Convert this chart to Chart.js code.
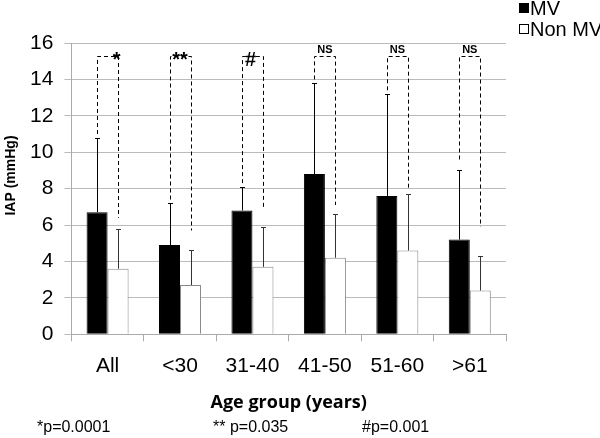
<!DOCTYPE html>
<html>
<head>
<meta charset="utf-8">
<script src="https://cdn.jsdelivr.net/npm/chart.js@4/dist/chart.umd.min.js"></script>
<style>
  html, body { margin: 0; padding: 0; background: #fff; }
  #wrap { width: 600px; height: 438px; position: relative; }
</style>
</head>
<body>
<div id="wrap"><canvas id="chart" width="600" height="438"></canvas></div>
<script>
const categories = ['All', '<30', '31-40', '41-50', '51-60', '>61'];
const mvValues = [6.7, 4.9, 6.8, 8.8, 7.6, 5.2];
const nonMvValues = [3.6, 2.7, 3.7, 4.2, 4.6, 2.4];
const mvUpper = [10.8, 7.2, 8.1, 13.8, 13.2, 9.0];
const nonMvUpper = [5.8, 4.6, 5.9, 6.6, 7.7, 4.3];

// significance brackets
const bracketTop = 15.3;
const bracketLeftFrom = [11.0, 7.4, 8.3, 14.0, 13.4, 9.6];
const bracketRightTo = [6.4, 5.7, 7.0, 7.1, 8.0, 5.9];
const bracketLabels = ['*', '**', '#', 'NS', 'NS', 'NS'];

const yTicks = [0, 2, 4, 6, 8, 10, 12, 14, 16];
const yTitle = 'IAP (mmHg)';
const footnotes = ['*p=0.0001', '** p=0.035', '#p=0.001'];

const FONT = '"Liberation Sans", Arial, sans-serif';

const errorBars = {
    id: 'errorBars',
    afterDatasetsDraw(chart) {
        const ctx = chart.ctx;
        const y = chart.scales.y;
        const uppers = [mvUpper, nonMvUpper];
        ctx.save();
        chart.data.datasets.forEach((ds, di) => {
            const meta = chart.getDatasetMeta(di);
            ctx.strokeStyle = di === 0 ? '#000' : '#333';
            ctx.lineWidth = 1;
            meta.data.forEach((bar, i) => {
                const x = Math.round(bar.x) + 0.5;
                const top = Math.round(y.getPixelForValue(uppers[di][i])) + 0.5;
                ctx.beginPath();
                ctx.moveTo(x, bar.y);
                ctx.lineTo(x, top);
                ctx.moveTo(x - 2.5, top);
                ctx.lineTo(x + 2.5, top);
                ctx.stroke();
            });
        });
        ctx.restore();
    }
};

const brackets = {
    id: 'brackets',
    afterDatasetsDraw(chart) {
        const ctx = chart.ctx;
        const y = chart.scales.y;
        const left = chart.getDatasetMeta(0).data;
        const right = chart.getDatasetMeta(1).data;
        ctx.save();
        ctx.strokeStyle = '#000';
        ctx.lineWidth = 1;
        ctx.setLineDash([4, 3]);
        const top = Math.round(y.getPixelForValue(bracketTop)) + 0.5;
        categories.forEach((c, i) => {
            const xl = Math.round(left[i].x) + 0.5;
            const xr = Math.round(right[i].x) + 0.5;
            ctx.beginPath();
            ctx.moveTo(xl, y.getPixelForValue(bracketLeftFrom[i]));
            ctx.lineTo(xl, top);
            ctx.lineTo(xr, top);
            ctx.lineTo(xr, y.getPixelForValue(bracketRightTo[i]));
            ctx.stroke();
        });
        ctx.setLineDash([]);
        ctx.fillStyle = '#000';
        ctx.textAlign = 'center';
        ctx.textBaseline = 'alphabetic';
        categories.forEach((c, i) => {
            const xm = (left[i].x + right[i].x) / 2;
            const lab = bracketLabels[i];
            if (lab === 'NS') {
                ctx.font = 'bold 11px ' + FONT;
                ctx.fillText(lab, xm, top - 4);
            } else {
                ctx.font = 'bold 20px ' + FONT;
                const dx = lab === '*' ? 9 : (lab === '#' ? -2 : 0);
                ctx.fillText(lab, xm + dx, top + 9);
            }
        });
        ctx.restore();
    }
};

const legendAndNotes = {
    id: 'legendAndNotes',
    afterDraw(chart) {
        const ctx = chart.ctx;
        const area = chart.chartArea;
        ctx.save();
        ctx.font = '20px ' + FONT;
        ctx.textBaseline = 'middle';
        ctx.textAlign = 'left';
        chart.data.datasets.forEach((ds, i) => {
            const cy = 8 + i * 21;
            ctx.fillStyle = ds.backgroundColor;
            ctx.fillRect(519, cy - 5, 10, 10);
            ctx.strokeStyle = '#000';
            ctx.lineWidth = 1;
            ctx.strokeRect(519.5, cy - 4.5, 9, 9);
            ctx.fillStyle = '#000';
            ctx.fillText(ds.label, 530, cy + 1);
        });
        ctx.font = '16px ' + FONT;
        const xs = [37, 213, 362];
        footnotes.forEach((t, i) => ctx.fillText(t, xs[i], 428));
        // y axis title
        ctx.font = 'bold 14px ' + FONT;
        ctx.textAlign = 'center';
        ctx.translate(11, area.top + (area.bottom - area.top) * 0.455);
        ctx.rotate(-Math.PI / 2);
        ctx.fillText(yTitle, 0, 0);
        ctx.restore();
    }
};

new Chart(document.getElementById('chart'), {
    type: 'bar',
    data: {
        labels: categories,
        datasets: [
            { label: 'MV', data: mvValues, backgroundColor: '#000', borderColor: '#000', borderWidth: 1 },
            { label: 'Non MV', data: nonMvValues, backgroundColor: '#fff', borderColor: '#888', borderWidth: 1 }
        ]
    },
    options: {
        responsive: false,
        animation: false,
        categoryPercentage: 0.58,
        barPercentage: 1.0,
        layout: { padding: { top: 43, right: 94, bottom: 24, left: 19 } },
        plugins: { legend: { display: false }, tooltip: { enabled: false } },
        scales: {
            x: {
                grid: { display: true, drawOnChartArea: false, drawTicks: true, tickLength: 7, color: '#aaa', offset: true },
                border: { color: '#aaa' },
                ticks: { color: '#000', font: { family: FONT, size: 21 }, padding: 12 },
                title: { display: true, text: 'Age group (years)', color: '#000', font: { family: '"Open Sans", sans-serif', size: 18, weight: 'bold' }, padding: { top: 2, bottom: 0 } }
            },
            y: {
                min: 0, max: 16,
                afterBuildTicks: (s) => { s.ticks = yTicks.map(v => ({ value: v })); },
                grid: { color: '#bbb', tickLength: 7 },
                border: { color: '#aaa' },
                ticks: { color: '#000', font: { family: FONT, size: 21 }, padding: 11 }
            }
        }
    },
    plugins: [errorBars, brackets, legendAndNotes]
});
</script>
</body>
</html>
